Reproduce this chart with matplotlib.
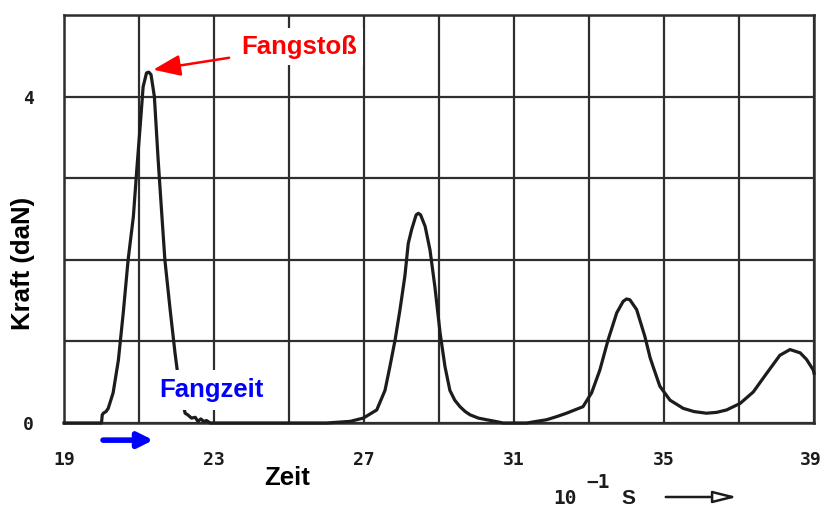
import matplotlib
matplotlib.use("Agg")
import matplotlib.pyplot as plt
from matplotlib.transforms import ScaledTranslation

# Force trace of a fall-arrest test: time in 1/10 s, force in daN
zeit = [19.0, 19.5, 20.0, 20.02, 20.05, 20.12, 20.18, 20.31, 20.45, 20.58, 20.71,
        20.85, 20.94, 21.03, 21.11, 21.2, 21.26, 21.32, 21.41, 21.51, 21.6,
        21.69, 21.83, 21.96, 22.03, 22.12, 22.23, 22.3, 22.4, 22.5, 22.57,
        22.65, 22.72, 22.8, 22.9, 23.2, 24.0, 25.0, 26.0, 26.63, 26.98,
        27.34, 27.56, 27.69, 27.83, 27.96, 28.09, 28.18, 28.27, 28.39, 28.45,
        28.51, 28.63, 28.76, 28.89, 29.03, 29.16, 29.29, 29.42, 29.56, 29.7,
        29.83, 30.05, 30.27, 30.5, 30.71, 31.0, 31.34, 31.6, 31.87, 32.15,
        32.4, 32.62, 32.84, 33.07, 33.29, 33.51, 33.74, 33.91, 34.0, 34.09,
        34.27, 34.49, 34.63, 34.71, 34.89, 35.16, 35.51, 35.8, 36.13, 36.4,
        36.67, 37.03, 37.38, 37.74, 38.09, 38.36, 38.63, 38.8, 38.98, 39.0]
kraft = [0.0, 0.0, 0.0, 0.1, 0.12, 0.14, 0.18, 0.37, 0.77, 1.35, 2.0,
         2.53, 3.1, 3.63, 4.12, 4.29, 4.3, 4.27, 4.0, 3.23, 2.61,
         2.0, 1.39, 0.86, 0.61, 0.35, 0.12, 0.1, 0.06, 0.07, 0.02,
         0.05, 0.02, 0.03, 0.0, 0.0, 0.0, 0.0, 0.0, 0.02, 0.06,
         0.16, 0.4, 0.69, 1.02, 1.39, 1.8, 2.2, 2.37, 2.55, 2.57,
         2.55, 2.41, 2.12, 1.67, 1.1, 0.69, 0.4, 0.28, 0.2, 0.14,
         0.1, 0.06, 0.04, 0.02, 0.0, 0.0, 0.0, 0.02, 0.04, 0.08,
         0.12, 0.16, 0.2, 0.37, 0.65, 1.02, 1.35, 1.49, 1.52, 1.51,
         1.39, 1.06, 0.8, 0.69, 0.45, 0.28, 0.18, 0.14, 0.12, 0.13,
         0.16, 0.24, 0.38, 0.61, 0.83, 0.9, 0.86, 0.78, 0.65, 0.61]

x_ticks = [19, 21, 23, 25, 27, 29, 31, 33, 35, 37, 39]
x_tick_labels = ["19", "", "23", "", "27", "", "31", "", "35", "", "39"]
y_ticks = [0, 1, 2, 3, 4, 5]
y_tick_labels = ["0", "", "", "", "4", ""]

ink = "#1c1c1c"
grid_ink = "#2e2e2e"
bold_sans = ["Liberation Sans", "DejaVu Sans"]
mono = ["DejaVu Sans Mono"]

W, H = 823, 509
fig = plt.figure(figsize=(W / 100, H / 100), dpi=100)
ax = fig.add_axes([64 / W, 1 - 423 / H, 750 / W, 408 / H])

ax.set_xlim(19, 39)
ax.set_ylim(0, 5)
ax.set_xticks(x_ticks)
ax.set_xticklabels(x_tick_labels, family=mono, fontweight="bold", fontsize=13, color=ink)
ax.set_yticks(y_ticks)
ax.set_yticklabels(y_tick_labels, family=mono, fontweight="bold", fontsize=13, color=ink)
ax.tick_params(axis="both", length=0)
ax.tick_params(axis="x", pad=20)
ax.tick_params(axis="y", pad=22)
# keep the last time label inside the figure edge
last = ax.get_xticklabels()[-1]
last.set_transform(last.get_transform() + ScaledTranslation(-3 / 100, 0, fig.dpi_scale_trans))
ax.grid(True, color=grid_ink, linewidth=1.6, zorder=1)
for s in ax.spines.values():
    s.set_color(grid_ink)
    s.set_linewidth(1.8)

ax.plot(zeit, kraft, color=ink, linewidth=2.3, zorder=3, clip_on=False)

# Peak annotation
ax.annotate("Fangstoß", xy=(21.38, 4.33), xytext=(23.72, 4.61),
            color="#ff0000", fontsize=18.5, fontweight="bold", family=bold_sans,
            va="center", ha="left", zorder=5,
            bbox=dict(boxstyle="square,pad=0.25", fc="white", ec="none"),
            arrowprops=dict(arrowstyle="-|>,head_width=0.35,head_length=0.9",
                            color="#ff0000", lw=1.8, shrinkA=4, shrinkB=0))

# Catch time label and arrow
ax.text(22.92, 0.405, "Fangzeit", color="#0000ff", fontsize=18.5,
        fontweight="bold", family=bold_sans, ha="center", va="center", zorder=5,
        bbox=dict(boxstyle="square,pad=0.3", fc="white", ec="none"))
ax.annotate("", xy=(21.38, -0.21), xytext=(20.04, -0.21),
            annotation_clip=False,
            arrowprops=dict(arrowstyle="-|>,head_width=0.45,head_length=0.9",
                            color="#0000ff", lw=4, shrinkA=0, shrinkB=0))

# Axis titles
fig.text(23 / W, 1 - 263 / H, "Kraft (daN)", rotation=90, ha="center", va="center",
         fontsize=18.5, fontweight="bold", family=bold_sans, color="black")
fig.text(287 / W, 1 - 478 / H, "Zeit", ha="center", va="center",
         fontsize=18.5, fontweight="bold", family=bold_sans, color="black")

# Unit label with arrow
fig.text(565 / W, 1 - 498 / H, "10", ha="center", va="center",
         fontsize=14, fontweight="bold", family=mono, color=ink)
fig.text(598 / W, 1 - 483 / H, "\u22121", ha="center", va="center",
         fontsize=14, fontweight="bold", family=mono, color=ink)
fig.text(628 / W, 1 - 498 / H, "S", ha="center", va="center",
         fontsize=15, fontweight="bold", family=bold_sans, color=ink)
fig.add_artist(matplotlib.patches.FancyArrowPatch(
    (663 / W, 1 - 497 / H), (740 / W, 1 - 497 / H), transform=fig.transFigure,
    arrowstyle="-|>,head_width=0.3,head_length=1.2", mutation_scale=12,
    facecolor="white", edgecolor=ink, lw=1.8))

fig.savefig("out.png", dpi=100, facecolor="white")
